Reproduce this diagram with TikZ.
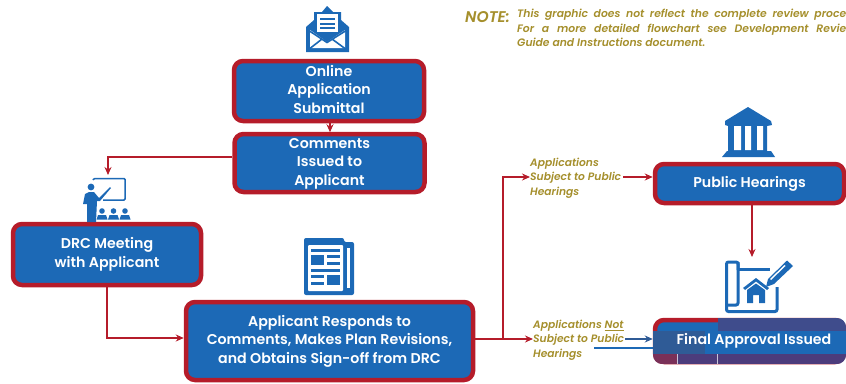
\documentclass[tikz,border=0pt]{standalone}
\usepackage{fontspec}
\setmainfont{Poppins}
\newfontfamily\boxf{Poppins SemiBold}
\newfontfamily\labf{Poppins SemiBold Italic}
\newcommand{\st}{\strut}
\usetikzlibrary{arrows.meta}
\definecolor{bx}{HTML}{1C69B6}
\definecolor{rd}{HTML}{B51C2A}
\definecolor{ol}{HTML}{A58F2C}
\definecolor{nv}{HTML}{3F4C8C}
\definecolor{dkb}{HTML}{2F5B96}
\definecolor{pur}{HTML}{4C3C7C}
\definecolor{mar}{HTML}{7A3058}
\tikzset{
 x=1pt,y=-1pt,
 stagebox/.style={draw=rd,fill=bx,line width=4.5pt,rounded corners=9pt,text=white,align=center,inner sep=0pt,font=\boxf\fontsize{14.2}{18.5}\selectfont},
 lab/.style={anchor=west,align=left,inner sep=0pt,text=ol,font=\labf\fontsize{10.7}{14.5}\selectfont},
 link/.style={draw=rd,line width=1.2pt},
 tip/.style={-{Stealth[length=8pt,width=7pt]}},
 ico/.style={fill=bx,draw=none},
 icw/.style={fill=white,draw=none},
 icl/.style={draw=bx,line width=3pt,fill=none},
 notetx/.style={anchor=west,align=left,inner sep=0pt,text=ol,font=\labf\fontsize{10.8}{14.5}\selectfont},
}
\begin{document}
\begin{tikzpicture}
\useasboundingbox (0,0) rectangle (846,383);
% boxes
\node[stagebox,minimum width=190pt,minimum height=60pt] (online) at (329,91) {\st Online\\Application\\Submittal\st};
\node[stagebox,minimum width=190pt,minimum height=58pt] (comments) at (329.5,163) {\st Comments\\Issued to\\Applicant\st};
\node[stagebox,minimum width=188pt,minimum height=61pt] (drc) at (107,254.5) {\st DRC Meeting\\with Applicant\st};
\node[stagebox,minimum width=287pt,minimum height=78pt] (resp) at (329.5,341) {\st Applicant Responds to\\Comments, Makes Plan Revisions,\\and Obtains Sign-off from DRC\st};
\node[stagebox,minimum width=189pt,minimum height=39pt] (pub) at (749.5,183.5) {Public Hearings};
% final approval box with its banded overlay
\node[stagebox,minimum width=189pt,minimum height=42pt] (final) at (749.5,341) {};
\begin{scope}
 \clip[rounded corners=9pt] (653,318) rectangle (846,364);
 \fill[nv] (718,318) rectangle (846,331);
 \fill[bx] (705,331) rectangle (846,354);
 \fill[dkb] (653,331) rectangle (705,354);
 \fill[pur] (677,354) rectangle (846,364);
 \fill[mar] (653,354) rectangle (677,364);
 \draw[white!70!pur,line width=.5pt] (677,354) -- (677,364) (717,354) -- (717,364);
\end{scope}
\node[inner sep=0pt,text=white,font=\boxf\fontsize{14.2}{16}\selectfont] (finaltx) at (754,340.5) {Final Approval Issued};
% labels
\node[lab] (lpub) at (530,178) {\st Applications\\Subject to Public\\Hearings\st};
\node[lab] (lnot) at (533,340) {\st Applications \underline{Not}\\Subject to Public\\Hearings\st};
% note
\node[anchor=west,inner sep=0pt,text=ol,font=\labf\fontsize{15.5}{15}\selectfont] (nt) at (465,17) {NOTE:};
\node[notetx] (n1) at (517,29.5) {\st\makebox[329pt][s]{This graphic does not reflect the complete review proce}\\\makebox[329pt][s]{For a more detailed flowchart see Development Revie}\\Guide and Instructions document.\st};
% connectors
\coordinate (c1) at (108,175);
\coordinate (c2) at (503,339);
\draw[link,tip] (online.south) ++(1,0) -- ++(0,9);
\draw[link,tip] ([yshift=6pt]comments.west) -| (c1);
\draw[link,tip] (drc.south) |- ([yshift=3pt]resp.west);
\draw[link] ([yshift=2pt]resp.east) -- (c2);
\draw[link,tip] (c2) |- (lpub.west|-0,177);
\draw[link,tip] (c2) -- (lnot.west|-0,339);
\draw[link,tip] (lpub.east|-0,177) ++(2,0) -- (pub.west|-0,177);
\draw[draw=dkb,line width=1.2pt,-{Stealth[length=8pt,width=7pt]}] (lnot.east|-0,339) ++(1,0) -- (final.west|-0,339);
\draw[draw=bx,line width=1.3pt] (594,348) -- (final.west|-0,348);
\draw[link,tip] (pub.south-|752,0) -- (752,257);
% envelope icon
\fill[ico] (306,27) -- (314,20) -- (314,12) -- (322,12) -- (327,6) -- (333,12) -- (341,12) -- (341,20) -- (349,27) -- (349,52) -- (306,52) -- cycle;
\fill[icw] (317,14) rectangle (338,32);
\fill[icw] (310,30) -- (327,42) -- (345,30) -- (345,48) -- (310,48) -- cycle;
\fill[ico] (320,18) rectangle ++(15,1.6);
\fill[ico] (320,23) rectangle ++(15,1.6);
\fill[ico] (320,27) rectangle ++(15,1.6);
\draw[bx,line width=1.6pt] (308,30) -- (327,42.5) -- (347,30) (308,50) -- (322,39) (347,50) -- (332,39);
% bank icon
\fill[ico] (748,107) -- (771,121) -- (772,125) -- (767,126) -- (767,151) -- (771,151) -- (775,157) -- (722,157) -- (727,151) -- (728,151) -- (728,126) -- (725,125) -- (725,121) -- cycle;
\fill[icw] (734,126) rectangle (741,150) (745,126) rectangle (751,150) (757,126) rectangle (763,150);
% blueprint icon
\draw[icl,rounded corners=2pt] (738,270) -- (738,262) -- (726.5,262) -- (726.5,311.5) -- (777,311.5) -- (777,287);
\draw[icl] (738,269.5) -- (770,269.5);
\draw[icl,rounded corners=2pt] (738,262) -- (738,305) -- (726.5,305);
\fill[ico] (743,288) -- (756,278) -- (769,288) -- (767,290) -- (756,281.5) -- (745,290) -- cycle;
\fill[ico] (747,290) -- (756,283.5) -- (765,290) -- (765,303) -- (759,303) -- (759,295) -- (753,295) -- (753,303) -- (747,303) -- cycle;
\fill[ico] (766,287) -- (768,279) -- (787,260.5) -- (793,266) -- (774,284) -- cycle;
\fill[icw] (770,279) -- (784.5,265) -- (785.5,266) -- (771,280) -- cycle;
% presenter icon
\draw[bx,line width=1.5pt,rounded corners=1pt] (93,180) -- (94,178.5) -- (125,178.5) -- (125,200) -- (103,200);
\fill[ico] (91,187) circle (3.4);
\fill[ico] (83,204) -- (85,194) -- (89,192) -- (94,192) -- (99,198) -- (110,187) -- (111,188) -- (100,201) -- (97,201) -- (96,222) -- (87,222) -- (87,204) -- cycle;
\foreach \p in {102,113.5,125}{
 \fill[ico] (\p,211) circle (2.8);
 \fill[ico] (\p-5.5,219.5) -- (\p-4,215) -- (\p+4,215) -- (\p+5.5,219.5) -- cycle;
}
% newspaper icon
\fill[ico,rounded corners=2pt] (304,238) -- (344,238) -- (344,242) -- (354,242) -- (354,295) -- (304,295) -- cycle;
\fill[icw,rounded corners=1pt] (308,245) rectangle (343,291);
\fill[icw] (347,248) rectangle (350,288);
\fill[ico] (311,249) rectangle (340,251.5);
\fill[ico] (311,255) rectangle (324,265);
\fill[ico] (327,255) rectangle (340,258);
\fill[ico] (327,262) rectangle (340,265);
\fill[ico] (311,269) rectangle (340,271.5);
\fill[ico] (311,275) rectangle (324,278);
\fill[ico] (311,282) rectangle (324,285);
\fill[ico] (327,275) rectangle (340,285);
\end{tikzpicture}
\end{document}
